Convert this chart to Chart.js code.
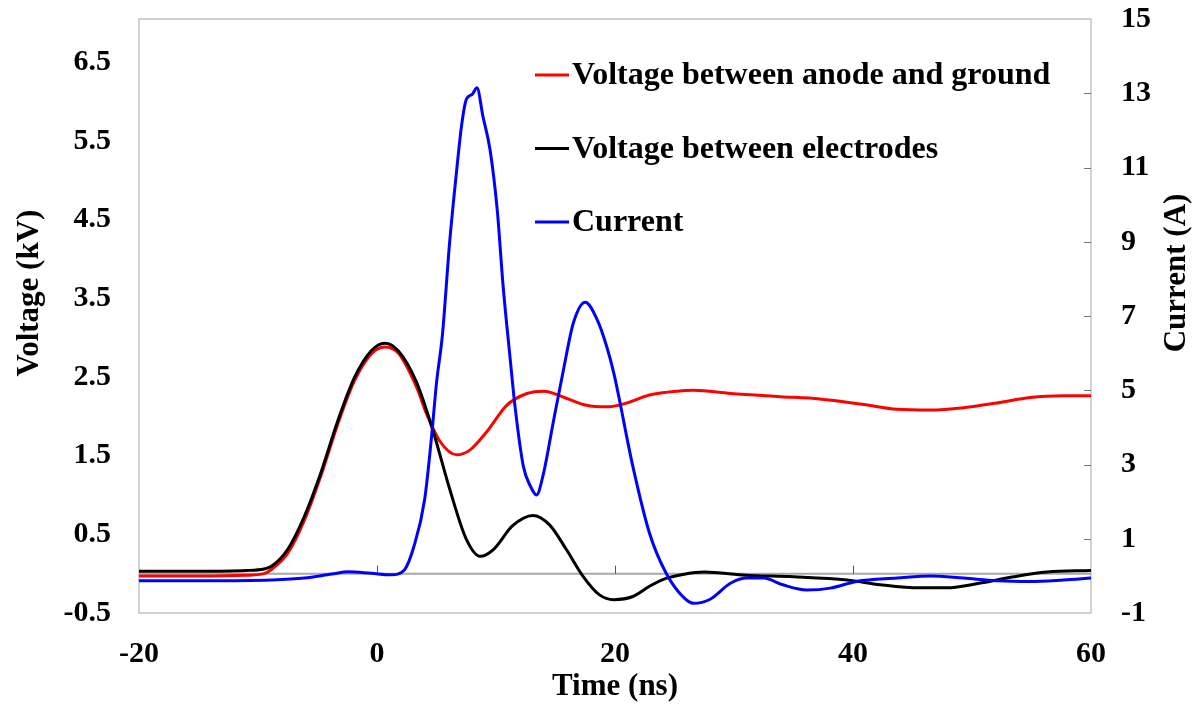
<!DOCTYPE html>
<html>
<head>
<meta charset="utf-8">
<script src="https://cdn.jsdelivr.net/npm/chart.js@4.4.0/dist/chart.umd.min.js"></script>
<style>
  body { margin: 0; background: #fff; }
</style>
</head>
<body>
<canvas id="myChart" width="1197" height="709"></canvas>
<script>
// time axis (ns) and the three traces
const anodeT = [-20, -15, -11, -9.5, -8.9, -7.5, -6.1, -4.7, -3.3, -1.9, -0.5, 0.65, 1.8, 3.3, 4.2, 5.3, 6.7, 7.8, 9.2, 10.9, 12.6, 14.0, 15.9, 17.6, 19.3, 21.0, 22.9, 25.2, 26.6, 29.7, 33.9, 37.2, 40.9, 43.7, 46.5, 49.3, 52.1, 54.9, 57.7, 60]
const anodeV = [-0.03, -0.03, -0.02, 0.0, 0.05, 0.26, 0.68, 1.25, 1.9, 2.45, 2.79, 2.88, 2.80, 2.38, 2.02, 1.68, 1.51, 1.57, 1.80, 2.14, 2.29, 2.32, 2.23, 2.14, 2.12, 2.17, 2.27, 2.32, 2.33, 2.29, 2.25, 2.22, 2.15, 2.09, 2.08, 2.11, 2.17, 2.24, 2.26, 2.26]

const gapT = [-20, -15, -11, -9.5, -8.9, -7.5, -6.1, -4.7, -3.3, -1.9, -0.5, 0.65, 1.8, 3.3, 4.7, 6.1, 7.5, 8.7, 9.8, 11.4, 13.1, 14.5, 15.9, 17.3, 18.7, 19.9, 21.5, 22.9, 24.3, 25.7, 27.5, 31, 35, 39.5, 42.3, 45.6, 47.9, 50.7, 53.5, 56.3, 60]
const gapV = [0.03, 0.03, 0.04, 0.06, 0.09, 0.31, 0.73, 1.29, 1.94, 2.49, 2.83, 2.93, 2.83, 2.44, 1.82, 1.08, 0.44, 0.22, 0.31, 0.61, 0.74, 0.62, 0.31, -0.03, -0.27, -0.33, -0.29, -0.16, -0.06, -0.01, 0.02, -0.02, -0.04, -0.08, -0.14, -0.18, -0.18, -0.12, -0.04, 0.02, 0.04]

const currT = [-20, -14.5, -8.9, -6.1, -3.8, -2.4, -0.5, 1.2, 2.3, 3.1, 4.0, 4.6, 5.0, 5.5, 6.1, 6.7, 7.1, 7.5, 8.0, 8.4, 8.9, 9.5, 10.1, 10.6, 11.2, 11.6, 12.3, 12.9, 13.4, 14.0, 14.8, 15.7, 16.5, 17.5, 18.5, 19.3, 19.9, 21.5, 22.9, 24.3, 25.7, 26.6, 28.0, 29.7, 31.1, 32.5, 34.1, 36.1, 38.1, 40.3, 43.7, 46.5, 49.3, 52.1, 54.9, 57.7, 60]
const currI = [-0.13, -0.13, -0.11, -0.06, 0.05, 0.11, 0.07, 0.03, 0.16, 0.79, 2.05, 3.8, 5.2, 6.5, 8.97, 10.94, 12.11, 12.83, 12.97, 13.15, 12.38, 11.48, 9.87, 7.8, 5.82, 4.56, 2.95, 2.41, 2.18, 2.77, 4.12, 5.6, 6.81, 7.37, 6.9, 6.18, 5.46, 2.95, 1.15, 0.07, -0.56, -0.74, -0.63, -0.2, -0.06, -0.06, -0.24, -0.38, -0.33, -0.15, -0.06, 0.0, -0.06, -0.13, -0.15, -0.11, -0.06]

const timeTicks = [-20, 0, 20, 40, 60]
const voltTicks = [-0.5, 0.5, 1.5, 2.5, 3.5, 4.5, 5.5, 6.5]
const currTicks = [-1, 1, 3, 5, 7, 9, 11, 13, 15]

const seriesNames = ['Voltage between anode and ground', 'Voltage between electrodes', 'Current']

const FONT = "'Liberation Serif', 'Times New Roman', serif"
const ctx = document.getElementById('myChart')

function pts(xs, ys) {
  return xs.map((x, i) => ({ x: x, y: ys[i] }))
}

// fixed box sizes so the plot area sits where the original one does
function fixSize(w, h) {
  return s => {
    if (w) s.width = w
    if (h) s.height = h
    s.paddingTop = 0
    s.paddingBottom = 0
    s.paddingLeft = 0
    s.paddingRight = 0
  }
}

// frame, zero line, inner tick marks, legend and side titles
const decorations = {
  id: 'decorations',
  beforeDatasetsDraw(chart) {
    const c = chart.ctx, a = chart.chartArea
    const xs = chart.scales.x, ys = chart.scales.y, y1 = chart.scales.y1
    const zeroY = ys.getPixelForValue(0)
    c.save()
    c.strokeStyle = '#c4c4c4'
    c.lineWidth = 1.5
    c.strokeRect(a.left, a.top, a.right - a.left, a.bottom - a.top)
    c.strokeStyle = '#a8a8a8'
    c.lineWidth = 2
    c.beginPath()
    c.moveTo(a.left, zeroY)
    c.lineTo(a.right, zeroY)
    c.stroke()
    c.strokeStyle = '#555'
    c.lineWidth = 1
    timeTicks.slice(1, -1).forEach(t => {
      const px = Math.round(xs.getPixelForValue(t)) + 0.5
      c.beginPath()
      c.moveTo(px, zeroY)
      c.lineTo(px, zeroY - 8)
      c.stroke()
    })
    c.strokeStyle = '#777'
    currTicks.slice(1, -1).forEach(v => {
      const py = Math.round(y1.getPixelForValue(v)) + 0.5
      c.beginPath()
      c.moveTo(a.right, py)
      c.lineTo(a.right - 7, py)
      c.stroke()
    })
    c.restore()
  },
  afterDraw(chart) {
    const c = chart.ctx
    c.save()
    c.font = 'bold 32px ' + FONT
    c.textBaseline = 'middle'
    c.fillStyle = '#000'
    chart.data.datasets.forEach((ds, i) => {
      const y = 75 + i * 73.5
      c.strokeStyle = ds.borderColor
      c.lineWidth = 3
      c.beginPath()
      c.moveTo(535, y)
      c.lineTo(569, y)
      c.stroke()
      c.textAlign = 'left'
      c.fillText(ds.label, 572, y + 1)
    })
    c.font = 'bold 31px ' + FONT
    c.textAlign = 'center'
    c.translate(30, 293)
    c.rotate(-Math.PI / 2)
    c.fillText('Voltage (kV)', 0, 0)
    c.restore()
    c.save()
    c.font = 'bold 31px ' + FONT
    c.textBaseline = 'middle'
    c.textAlign = 'center'
    c.fillStyle = '#000'
    c.translate(1177, 273)
    c.rotate(-Math.PI / 2)
    c.fillText('Current (A)', 0, 0)
    c.restore()
  }
}

const newChart = new Chart(ctx, {
  type: 'line',
  data: {
    datasets: [
      { label: seriesNames[0], data: pts(anodeT, anodeV), yAxisID: 'y', borderColor: '#ff0000', order: 3 },
      { label: seriesNames[1], data: pts(gapT, gapV), yAxisID: 'y', borderColor: '#000000', order: 2 },
      { label: seriesNames[2], data: pts(currT, currI), yAxisID: 'y1', borderColor: '#0000ff', order: 1 }
    ]
  },
  options: {
    responsive: false,
    animation: false,
    devicePixelRatio: 1,
    layout: { padding: { top: 19, left: 0, right: 0, bottom: 0 } },
    elements: {
      line: { borderWidth: 3, cubicInterpolationMode: 'monotone', fill: false },
      point: { radius: 0 }
    },
    plugins: { legend: { display: false }, tooltip: { enabled: false } },
    scales: {
      x: {
        type: 'linear',
        position: 'bottom',
        min: -20,
        max: 60,
        afterBuildTicks: s => { s.ticks = timeTicks.map(v => ({ value: v })) },
        afterFit: fixSize(0, 96),
        grid: { display: false, drawTicks: false },
        border: { display: false },
        ticks: { color: '#000', font: { family: FONT, size: 30, weight: 'bold' }, padding: 23, maxRotation: 0 },
        title: { display: true, text: 'Time (ns)', color: '#000', font: { family: FONT, size: 31, weight: 'bold' }, padding: { top: 0, bottom: 3 } }
      },
      y: {
        position: 'left',
        min: -0.5,
        max: 7.05,
        afterBuildTicks: s => { s.ticks = voltTicks.map(v => ({ value: v })) },
        afterFit: fixSize(139, 0),
        grid: { display: false, drawTicks: false },
        border: { display: false },
        ticks: { color: '#000', font: { family: FONT, size: 30, weight: 'bold' }, padding: 28, callback: v => v.toFixed(1) }
      },
      y1: {
        position: 'right',
        min: -1,
        max: 15,
        afterBuildTicks: s => { s.ticks = currTicks.map(v => ({ value: v })) },
        afterFit: fixSize(106, 0),
        grid: { display: false, drawTicks: false },
        border: { display: false },
        ticks: { color: '#000', font: { family: FONT, size: 30, weight: 'bold' }, padding: 30 }
      }
    }
  },
  plugins: [decorations]
})
</script>
</body>
</html>
